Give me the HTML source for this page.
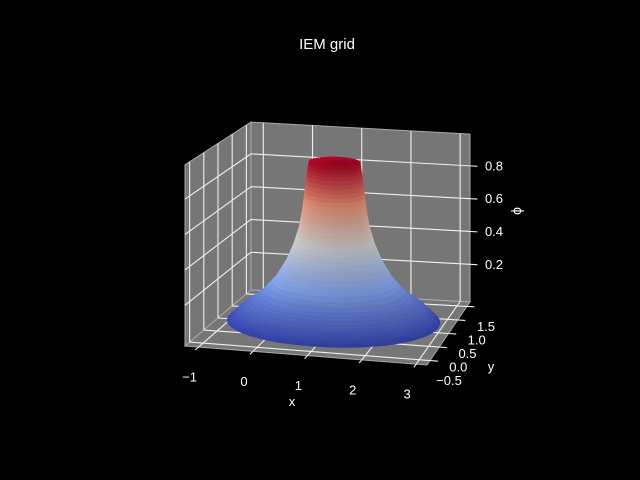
<!DOCTYPE html>
<html><head><meta charset="utf-8"><style>
html,body{margin:0;padding:0;background:#000;}
svg{display:block;font-family:"Liberation Sans","DejaVu Sans",sans-serif;}
</style></head><body>
<svg id="chart" width="640" height="480" viewBox="0 0 640 480" xmlns="http://www.w3.org/2000/svg">
<rect width="640" height="480" fill="#000"/>
<text x="327" y="49" fill="#fff" font-size="15" text-anchor="middle">IEM grid</text>
<g id="panes"></g>
<g id="surface"></g>
<g id="labels"></g>
<text x="292" y="406" fill="#fff" font-size="13" text-anchor="middle">x</text>
<text x="491" y="371" fill="#fff" font-size="13" text-anchor="middle">y</text>
<text x="0" y="0" fill="#fff" font-size="14" text-anchor="middle" transform="translate(521,211) rotate(-90)">ϕ</text>
</svg>
<script>
// data
const xTicks = [-1, 0, 1, 2, 3];
const yTicks = [-0.5, 0.0, 0.5, 1.0, 1.5];
const zTicks = [0.2, 0.4, 0.6, 0.8];
const xTickLabels = ["\u22121", "0", "1", "2", "3"];
const yTickLabels = ["\u22120.5", "0.0", "0.5", "1.0", "1.5"];
const zTickLabels = ["0.2", "0.4", "0.6", "0.8"];
// radial profile of phi (normalized radius of elliptical domain)
const profileR = [1.0, 0.95, 0.86, 0.7, 0.55, 0.45, 0.38, 0.33, 0.3, 0.28, 0.26, 0.24, 0.0];
const profilePhi = [0.0, 0.03, 0.08, 0.15, 0.25, 0.35, 0.45, 0.55, 0.65, 0.75, 0.85, 0.93, 0.94];
const centerX = 1.0, centerY = 0.5, radiusX = 2.0, radiusY = 1.0;

const NS = "http://www.w3.org/2000/svg";
const xlo = -1.25, xhi = 3.2, ylo = -0.663, yhi = 1.663, zlo = -0.03, zhi = 0.994;
function proj(x, y, z) {
  const u = (x - xlo) / (xhi - xlo), v = (y - ylo) / (yhi - ylo);
  const fx = 185 + 242 * u, fy = 346 + 19 * u;
  const bx = 251 + 219 * u, by = 290 + 12 * u;
  const s = 177 + (164 - 177) * v;
  return [fx + (bx - fx) * v, fy + (by - fy) * v - (z - zlo) * s, v];
}
function mk(tag, attrs, parent) {
  const e = document.createElementNS(NS, tag);
  for (const k in attrs) e.setAttribute(k, attrs[k]);
  parent.appendChild(e);
  return e;
}
function pts(a) { return a.map(p => p[0].toFixed(1) + "," + p[1].toFixed(1)).join(" "); }
const panes = document.getElementById("panes");
const paneFill = "#767676";
let p = mk("polygon", {points: pts([proj(xlo,ylo,zlo),proj(xlo,yhi,zlo),proj(xlo,yhi,zhi),proj(xlo,ylo,zhi)]), fill: paneFill, stroke: "#aaa", "stroke-width": 1}, panes);


p = mk("polygon", {points: pts([proj(xlo,yhi,zlo),proj(xhi,yhi,zlo),proj(xhi,yhi,zhi),proj(xlo,yhi,zhi)]), fill: paneFill, stroke: "#aaa", "stroke-width": 1}, panes);


p = mk("polygon", {points: pts([proj(xlo,ylo,zlo),proj(xhi,ylo,zlo),proj(xhi,yhi,zlo),proj(xlo,yhi,zlo)]), fill: paneFill, stroke: "#aaa", "stroke-width": 1}, panes);


function line(a, b, name, w) {
  const l = mk("line", {x1: a[0], y1: a[1], x2: b[0], y2: b[1], stroke: "#f0f0f0", "stroke-width": w || 1.1}, panes);
  
  
}
xTicks.forEach(x => {
  line(proj(x,ylo,zlo), proj(x,yhi,zlo), "x-grid-floor");
  line(proj(x,yhi,zlo), proj(x,yhi,zhi), "x-grid-back");
  line(proj(x,ylo,zlo), proj(x,ylo-0.12,zlo), "x-tick");
});
yTicks.forEach(y => {
  line(proj(xlo,y,zlo), proj(xhi,y,zlo), "y-grid-floor");
  line(proj(xlo,y,zlo), proj(xlo,y,zhi), "y-grid-left");
  line(proj(xhi,y,zlo), proj(xhi+0.15,y,zlo), "y-tick");
});
zTicks.forEach(z => {
  line(proj(xlo,ylo,z), proj(xlo,yhi,z), "z-grid-left");
  line(proj(xlo,yhi,z), proj(xhi,yhi,z), "z-grid-back");
  line(proj(xhi,yhi,z), proj(xhi+0.15,yhi,z), "z-tick");
});
// labels
const labels = document.getElementById("labels");
function label(txt, pt, dx, dy, name) {
  const t = mk("text", {x: (pt[0]+dx).toFixed(1), y: (pt[1]+dy).toFixed(1), fill: "#fff", "font-size": 13, "text-anchor": "middle", "dominant-baseline": "central"}, labels);
  t.textContent = txt;
  
  
}
xTicks.forEach((x, i) => label(xTickLabels[i], proj(x, ylo, zlo), -9, 30, "x-tick-label"));
yTicks.forEach((y, i) => label(yTickLabels[i], proj(xhi, y, zlo), 19, 20, "y-tick-label"));
zTicks.forEach((z, i) => label(zTickLabels[i], proj(xhi, yhi, z), 24, 0, "z-tick-label"));
// surface
const cw = [[0,[58,76,192]],[0.25,[141,176,254]],[0.5,[221,221,221]],[0.75,[244,154,123]],[1,[180,4,38]]];
function cmap(t, shade) {
  t = Math.max(0, Math.min(1, t));
  for (let i = 0; i < cw.length - 1; i++) {
    if (t <= cw[i+1][0]) {
      const f = (t - cw[i][0]) / (cw[i+1][0] - cw[i][0]);
      const c = cw[i][1].map((a, k) => Math.round((a + (cw[i+1][1][k] - a) * f) * shade));
      return "rgb(" + c.join(",") + ")";
    }
  }
  return "rgb(180,4,38)";
}
const rings = [];
for (let i = 0; i < profileR.length - 1; i++) {
  const sub = 4;
  for (let j = 0; j < sub; j++) {
    const f = j / sub;
    rings.push([profileR[i] + (profileR[i+1] - profileR[i]) * f, profilePhi[i] + (profilePhi[i+1] - profilePhi[i]) * f]);
  }
}
rings.push([profileR[profileR.length-1], profilePhi[profilePhi.length-1]]);
const NT = 80;
const phiMin = Math.min(...profilePhi), phiMax = Math.max(...profilePhi);
const quads = [];
for (let i = 0; i < rings.length - 1; i++) {
  for (let k = 0; k < NT; k++) {
    const t0 = 2 * Math.PI * k / NT, t1 = 2 * Math.PI * (k + 1) / NT;
    const P = (r, z, t) => proj(centerX + radiusX * r * Math.cos(t), centerY + radiusY * r * Math.sin(t), z);
    const a = P(rings[i][0], rings[i][1], t0), b = P(rings[i][0], rings[i][1], t1);
    const c = P(rings[i+1][0], rings[i+1][1], t1), d = P(rings[i+1][0], rings[i+1][1], t0);
    const zm = (rings[i][1] + rings[i+1][1]) / 2;
    const tm = (t0 + t1) / 2;
    const shade = 0.9 + 0.1 * Math.cos(tm - 2.3);
    quads.push({pts: [a, b, c, d], depth: (a[2]+b[2]+c[2]+d[2]) / 4, col: cmap((zm - phiMin) / (phiMax - phiMin), shade)});
  }
}
quads.sort((q1, q2) => q2.depth - q1.depth);
const surf = document.getElementById("surface");
quads.forEach(q => {
  const pg = mk("polygon", {points: pts(q.pts), fill: q.col, stroke: q.col, "stroke-width": 0.6}, surf);
  
  
});
</script>
</body></html>
